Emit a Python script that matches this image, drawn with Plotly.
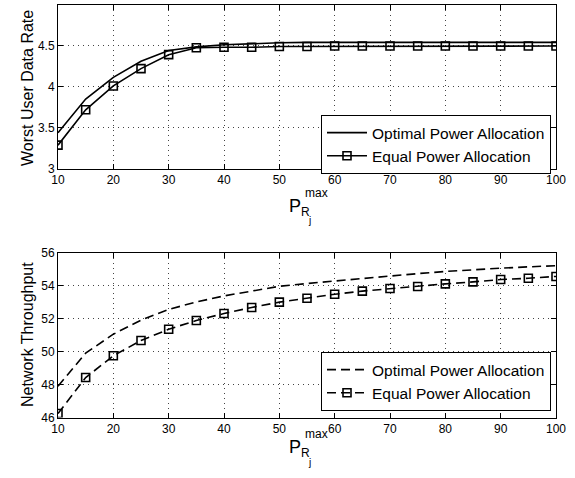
import plotly.graph_objects as go

x_vals = [10, 15, 20, 25, 30, 35, 40, 45, 50, 55, 60, 65, 70, 75, 80, 85, 90, 95, 100]

rate_optimal = [3.44, 3.85, 4.115, 4.31, 4.44, 4.485, 4.51, 4.525, 4.535, 4.54, 4.54, 4.54, 4.54, 4.54, 4.54, 4.54, 4.54, 4.54, 4.54]
rate_equal = [3.29, 3.72, 4.01, 4.22, 4.39, 4.475, 4.48, 4.48, 4.49, 4.49, 4.495, 4.495, 4.495, 4.495, 4.495, 4.495, 4.495, 4.495, 4.495]

thr_optimal = [47.9, 49.9, 51.05, 51.9, 52.55, 53.0, 53.37, 53.68, 53.95, 54.12, 54.28, 54.44, 54.58, 54.72, 54.85, 54.96, 55.05, 55.13, 55.2]
thr_equal = [46.24, 48.42, 49.74, 50.67, 51.35, 51.88, 52.3, 52.67, 52.99, 53.23, 53.47, 53.66, 53.82, 53.94, 54.1, 54.22, 54.36, 54.44, 54.55]

x_ticks = [10, 20, 30, 40, 50, 60, 70, 80, 90, 100]
rate_ticks = [3, 3.5, 4, 4.5, 5]
rate_tick_text = ["3", "3.5", "4", "4.5", "5"]
thr_ticks = [46, 48, 50, 52, 54, 56]

legend_names = ["Optimal Power Allocation", "Equal Power Allocation"]

W, H = 575, 478
FONT = "Liberation Sans, Arial, Helvetica, sans-serif"

def px_x(p):
    return p / W

def px_y(p):
    return 1 - p / H

fig = go.Figure()

fig.add_trace(go.Scatter(x=x_vals, y=rate_optimal, mode="lines", name=legend_names[0],
                         line=dict(color="black", width=1.6), xaxis="x", yaxis="y", legend="legend"))
fig.add_trace(go.Scatter(x=x_vals, y=rate_equal, mode="lines+markers", name=legend_names[1],
                         line=dict(color="black", width=1.6),
                         marker=dict(symbol="square-open", size=8, color="black", line=dict(width=1.6)),
                         xaxis="x", yaxis="y", legend="legend"))

fig.add_trace(go.Scatter(x=x_vals, y=thr_optimal, mode="lines", name=legend_names[0],
                         line=dict(color="black", width=1.6, dash="9px,5px"), xaxis="x2", yaxis="y2", legend="legend2"))
fig.add_trace(go.Scatter(x=x_vals, y=thr_equal, mode="lines+markers", name=legend_names[1],
                         line=dict(color="black", width=1.6, dash="9px,5px"),
                         marker=dict(symbol="square-open", size=8, color="black", line=dict(width=1.6)),
                         xaxis="x2", yaxis="y2", legend="legend2"))

axis_common = dict(
    showline=True, linecolor="black", linewidth=1, mirror="ticks",
    ticks="inside", ticklen=5, tickcolor="black", tickwidth=1,
    showgrid=True, gridcolor="#444444", griddash="1px,4px", gridwidth=1,
    zeroline=False, automargin=False,
    tickfont=dict(family=FONT, size=12, color="black"),
)

legend_common = dict(xanchor="right", yanchor="top",
                     bgcolor="white", bordercolor="black", borderwidth=1,
                     font=dict(family=FONT, size=15.5, color="black"), tracegroupgap=0,
                     itemwidth=40)

xdom = [px_x(58), px_x(556)]
fig.update_layout(
    template="none",
    width=W, height=H,
    margin=dict(l=0, r=0, t=0, b=0, autoexpand=False),
    paper_bgcolor="white", plot_bgcolor="white",
    font=dict(family=FONT, color="black"),
    xaxis=dict(domain=xdom, anchor="y", range=[10, 100], tickvals=x_ticks, **axis_common),
    yaxis=dict(domain=[px_y(169), px_y(4.5)], anchor="x", range=[3, 5], tickvals=rate_ticks,
               ticktext=rate_tick_text, **axis_common),
    xaxis2=dict(domain=xdom, anchor="y2", range=[10, 100], tickvals=x_ticks, **axis_common),
    yaxis2=dict(domain=[px_y(417.5), px_y(252.5)], anchor="x2", range=[46, 56], tickvals=thr_ticks, **axis_common),
    legend=dict(x=px_x(551), y=px_y(115), **legend_common),
    legend2=dict(x=px_x(551), y=px_y(352), **legend_common),
    showlegend=True,
)

annots = []
# y axis titles
annots.append(dict(text="Worst User Data Rate", x=px_x(27), y=px_y(88), textangle=-90,
                   font=dict(family=FONT, size=16, color="black")))
annots.append(dict(text="Network Throughput", x=px_x(27), y=px_y(335), textangle=-90,
                   font=dict(family=FONT, size=16, color="black")))
# x axis titles: P_{R_j}^{max}
for yoff in (0, 241):
    annots.append(dict(text="P", x=px_x(295), y=px_y(206 + yoff), font=dict(family=FONT, size=18, color="black")))
    annots.append(dict(text="max", x=px_x(316), y=px_y(193 + yoff), font=dict(family=FONT, size=12, color="black")))
    annots.append(dict(text="R", x=px_x(305), y=px_y(212 + yoff), font=dict(family=FONT, size=12, color="black")))
    annots.append(dict(text="j", x=px_x(309), y=px_y(221 + yoff), font=dict(family=FONT, size=10, color="black")))

for a in annots:
    a.update(xref="paper", yref="paper", showarrow=False, xanchor="center", yanchor="middle")
fig.update_layout(annotations=annots)

# remove the default 8px body margin so the figure fills the window exactly
fig.write_html("out.html",
               config={"displayModeBar": False},
               post_script="document.body.style.margin='0';document.body.style.overflow='hidden';")
